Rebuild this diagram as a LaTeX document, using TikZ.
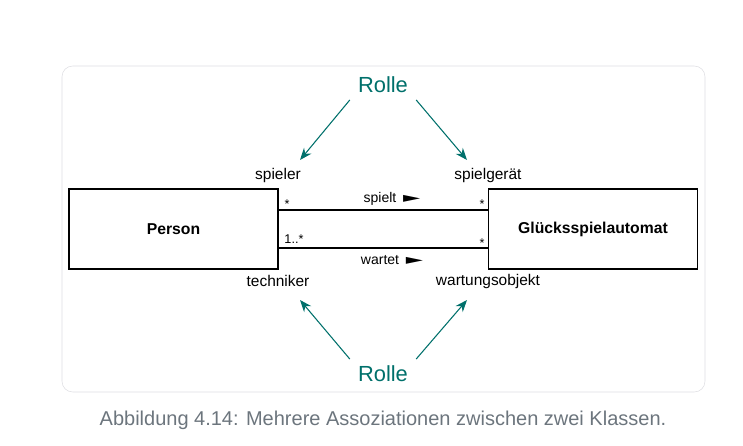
\documentclass[tikz,border=0pt]{standalone}
\usepackage{fontspec}
\setmainfont{Liberation Sans}
\newfontfamily\symfont{DejaVu Sans}
\usetikzlibrary{arrows.meta,positioning}
\definecolor{rolleteal}{RGB}{0,112,107}
\definecolor{capgray}{RGB}{108,117,125}
\definecolor{framegray}{RGB}{222,222,226}

\begin{document}
\begin{tikzpicture}[
  x=0.75pt, y=-0.75pt,
  klasse/.style={draw, thick, minimum width=156.75pt, minimum height=60pt, font=\bfseries\fontsize{11.8}{14}\selectfont},
  rollename/.style={font=\fontsize{11.6}{14}\selectfont, inner sep=1pt},
  mult/.style={font=\fontsize{9.5}{11}\selectfont, inner sep=0pt},
  assoz/.style={font=\fontsize{10.5}{12}\selectfont, inner sep=0pt},
  rolle/.style={text=rolleteal, font=\fontsize{16.4}{19}\selectfont, inner sep=2pt},
  zeiger/.style={draw=rolleteal, thick, -{Stealth[length=9pt,width=7pt]}}
]
\useasboundingbox (0,0) rectangle (743,446);
\draw[framegray, rounded corners=8pt] (62,66) rectangle (705,392);

% Klassen
\node[klasse] (person) at (173.5,229) {Person};
\node[klasse] (automat) at (593,229) {Glücksspielautomat};

% Assoziationen
\draw[thick] ([yshift=14.25pt]person.east) -- ([yshift=14.25pt]automat.west);
\draw[thick] ([yshift=-14.25pt]person.east) -- ([yshift=-14.25pt]automat.west);
\node[assoz] (spielt) at (392,199) {spielt\hspace{5pt}{\symfont\scalebox{1.6}[1.0]{►}}};
\node[assoz] (wartet) at (392,260) {wartet\hspace{5pt}{\symfont\scalebox{1.6}[1.0]{►}}};

% Multiplizitaeten
\node[mult] (m1) at (287,204) {*};
\node[mult] (m2) at (482,204) {*};
\node[mult] (m3) at (294,239) {1..*};
\node[mult] (m4) at (482,243) {*};

% Rollennamen
\node[rollename] (spieler) at (278,176) {spieler};
\node[rollename] (spielgeraet) at (488,176) {spielgerät};
\node[rollename] (techniker) at (278,281) {techniker};
\node[rollename] (wartung) at (488,281) {wartungsobjekt};

% Rolle
\node[rolle] (rolleOben) at (383,85) {Rolle};
\node[rolle] (rolleUnten) at (383,374) {Rolle};
\coordinate (zOL) at (300,160);
\coordinate (zOR) at (467,160);
\coordinate (zUL) at (300,300);
\coordinate (zUR) at (467,300);
\draw[zeiger] ([xshift=-4pt,yshift=-3pt]rolleOben.south west) -- (zOL);
\draw[zeiger] ([xshift=4pt,yshift=-3pt]rolleOben.south east) -- (zOR);
\draw[zeiger] ([xshift=-4pt,yshift=3pt]rolleUnten.north west) -- (zUL);
\draw[zeiger] ([xshift=4pt,yshift=3pt]rolleUnten.north east) -- (zUR);

% Unterschrift
\node[text=capgray, font=\fontsize{15}{18}\selectfont] (caption) at (383,420)
  {Abbildung 4.14: Mehrere Assoziationen zwischen zwei Klassen.};
\end{tikzpicture}
\end{document}
